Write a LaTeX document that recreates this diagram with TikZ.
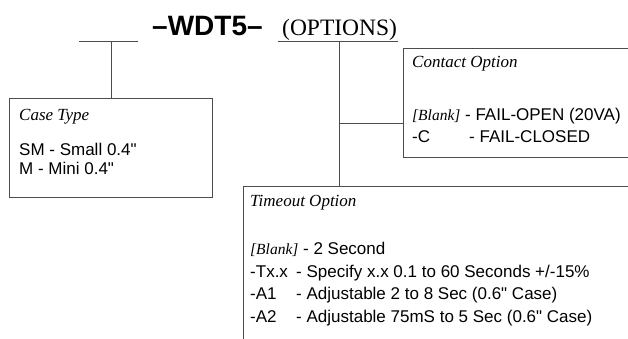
\documentclass[tikz,border=0pt]{standalone}
\usepackage{fontspec}
\setmainfont{Liberation Serif}
\newfontfamily\hsans{Liberation Sans}
\begin{document}
\begin{tikzpicture}[x=1pt,y=-1pt,
  txt/.style={anchor=base west, inner sep=0pt, font=\hsans\fontsize{17}{20}\selectfont},
  hdr/.style={anchor=base west, inner sep=0pt, font=\itshape\fontsize{17}{20}\selectfont},
  conn/.style={draw=black!70, line width=1pt},
  optbox/.style={draw=black!70, line width=1pt, anchor=north west, inner sep=0pt}]
\useasboundingbox (0,0) rectangle (628,338);
\fill[white] (0,0) rectangle (628,338);
% title
\node[anchor=base west, inner sep=0pt, font=\hsans\bfseries\fontsize{28}{30}\selectfont] (code) at (152,35) {–WDT5–};
\node[anchor=base west, inner sep=0pt, font=\fontsize{23.5}{26}\selectfont] (opts) at (282,35) {(OPTIONS)};
% boxes
\node[optbox, minimum width=203pt, minimum height=99pt] (case) at (9,98) {};
\node[optbox, minimum width=240pt, minimum height=109pt] (contact) at (403,48) {};
\node[optbox, minimum width=420pt, minimum height=180pt] (timeout) at (243,186) {};
% connectors
\coordinate (la) at (79,41.7);
\coordinate (lb) at (138,41.7);
\coordinate (ra) at (278,41.7);
\coordinate (rb) at (398,41.7);
\coordinate (rv) at (339,41.7);
\coordinate (br) at (339,123);
\draw[conn] (la) -- (lb);
\draw[conn] (case.north) -- (case.north |- la);
\draw[conn] (ra) -- (rb);
\draw[conn] (rv) -- (rv |- timeout.north);
\draw[conn] (br) -- (br -| contact.west);
% case text
\node[hdr] (caseh) at (19,120) {Case Type};
\node[txt] (case1) at (19,155) {SM - Small 0.4"};
\node[txt] (case2) at (19,174) {M - Mini 0.4"};
% contact text
\node[hdr] (conh) at (412,67) {Contact Option};
\node[txt] (con1) at (412,120) {\itshape\rmfamily\fontsize{15.5}{18}\selectfont [Blank]\hsans\upshape\fontsize{17}{20}\selectfont{} - FAIL-OPEN (20VA)};
\node[txt] (con2a) at (412,142) {-C};
\node[txt] (con2b) at (469,142) {- FAIL-CLOSED};
% timeout text
\node[hdr] (toh) at (250,206) {Timeout Option};
\node[txt] (to1) at (250,254) {\itshape\rmfamily\fontsize{15.5}{18}\selectfont [Blank]\hsans\upshape\fontsize{17}{20}\selectfont{} - 2 Second};
\node[txt] (to2a) at (250,277) {-Tx.x};
\node[txt] (to2b) at (296,277) {- Specify x.x 0.1 to 60 Seconds +/-15\%};
\node[txt] (to3a) at (250,299.5) {-A1};
\node[txt] (to3b) at (296,299.5) {- Adjustable 2 to 8 Sec (0.6" Case)};
\node[txt] (to4a) at (250,322) {-A2};
\node[txt] (to4b) at (296,322) {- Adjustable 75mS to 5 Sec (0.6" Case)};
\end{tikzpicture}
\end{document}
